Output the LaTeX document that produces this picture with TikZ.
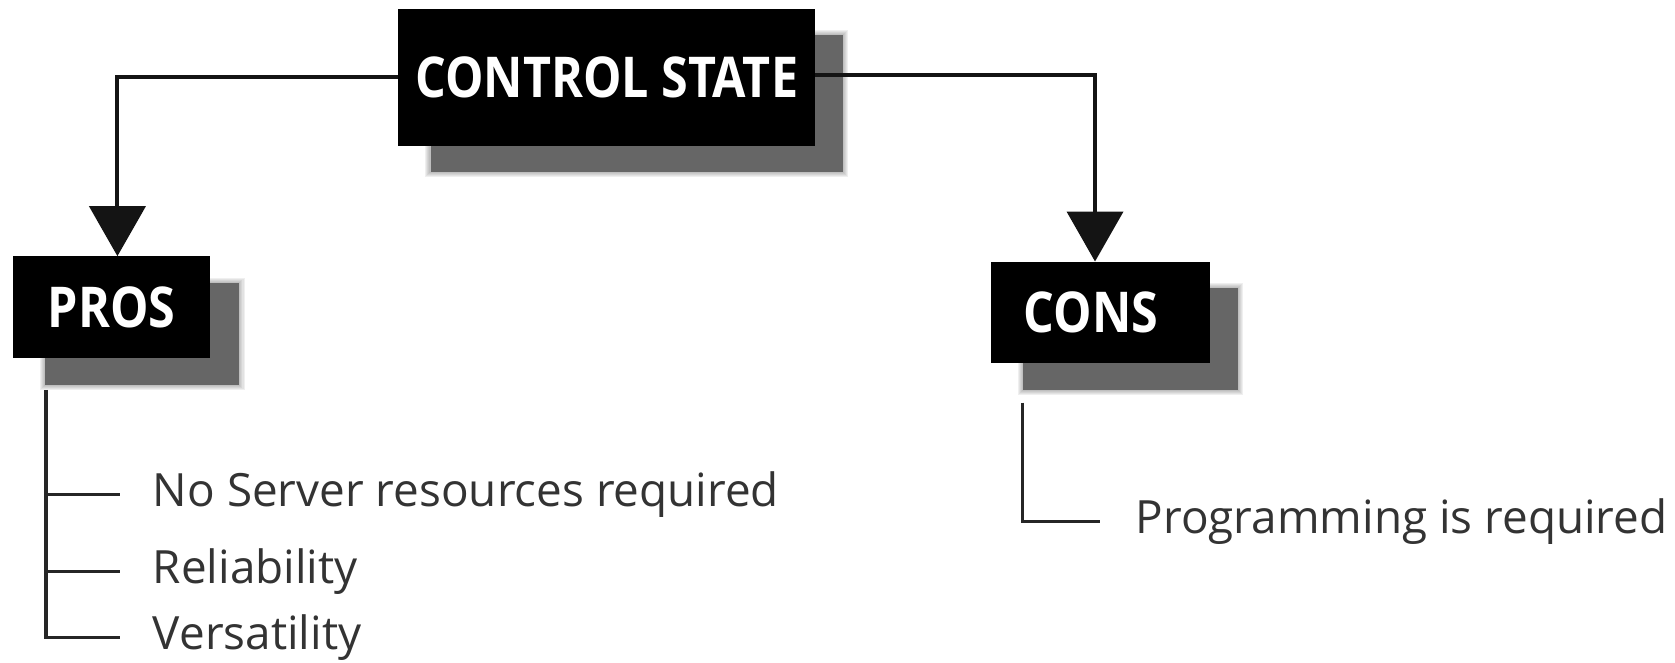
\documentclass[tikz,border=0pt]{standalone}
\usepackage{fontspec}
\setmainfont{Open Sans}
\newfontfamily\hdrfont{Open Sans}[FakeStretch=0.86]
\usetikzlibrary{arrows.meta,calc}
\begin{document}
\begin{tikzpicture}[x=1.0683bp,y=-1.0683bp,
  hdr/.style={fill=black,text=white,inner sep=0pt,font=\hdrfont\fontsize{56.5}{62}\selectfont\bfseries},
  conn/.style={line width=4bp,draw=black!92},
  listline/.style={line width=3.2bp,draw=black!85},
  arr/.style={conn,-{Triangle[length=50bp,width=56bp]}},
  item/.style={anchor=west,inner sep=0pt,text=black!80,font=\fontsize{46}{52}\selectfont}]
\useasboundingbox (0,0) rectangle (1568,620);
% soft shadows
\newcommand\softshadow[4]{%
  \foreach \d in {1,...,5}{\fill[black!60,opacity=0.1] (#1-\d,#2-\d) rectangle (#3+\d,#4+\d);}
  \fill[black!60] (#1,#2) rectangle (#3,#4);}
\softshadow{403}{33}{789}{161}
\softshadow{42}{265}{224}{360}
\softshadow{958}{270}{1159}{365}
% boxes
\node[hdr,minimum width=416.6bp,minimum height=137.8bp] (cs) at (568,72.5) {CONTROL STATE};
\node[hdr,minimum width=197.6bp,minimum height=101.5bp] (pros) at (104.5,287.5) {PROS};
\node[hdr,minimum width=219bp,minimum height=101.5bp] (cons) at (1030.5,292.5) {\hspace*{-20bp}CONS};
% connectors
\draw[arr] (cs.west) -| ([xshift=5.8bp]pros.north);
\draw[arr] ([yshift=2bp]cs.east) -| ([xshift=-5.8bp]cons.north);
% pros list
\coordinate (p0) at (43,365);
\coordinate (p1) at (43,463);
\coordinate (p2) at (43,535);
\coordinate (p3) at (43,597);
\node[item] (t1) at (143,463) {No Server resources required};
\node[item] (t2) at (143,535) {Reliability};
\node[item] (t3) at (143,597) {Versatility};
\draw[listline] (p0) -- (p3) -- ($(t3.west)+(-31,0)$);
\draw[listline] (p1) -- ($(t1.west)+(-31,0)$);
\draw[listline] (p2) -- ($(t2.west)+(-31,0)$);
% cons list
\coordinate (c0) at (957,377);
\node[item] (t4) at (1063,488) {Programming is required};
\draw[listline] (c0) |- ($(t4.west)+(-33,0)$);
\end{tikzpicture}
\end{document}
